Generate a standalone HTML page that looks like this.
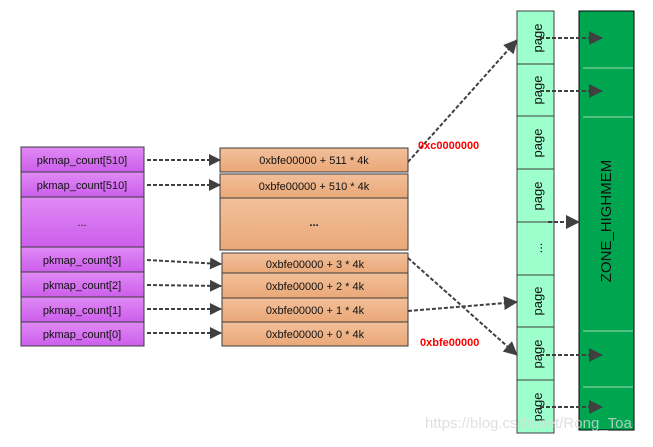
<!DOCTYPE html>
<html><head><style>
body{margin:0;width:653px;height:442px;background:#fff;overflow:hidden;font-family:"Liberation Sans",sans-serif;}
</style></head><body>
<svg width="653" height="442" xmlns="http://www.w3.org/2000/svg" font-family="Liberation Sans, sans-serif">
<defs>
<linearGradient id="pu" x1="0" y1="0" x2="0" y2="1"><stop offset="0" stop-color="#e08af5"/><stop offset="1" stop-color="#cc5eeb"/></linearGradient>
<linearGradient id="or" x1="0" y1="0" x2="0" y2="1"><stop offset="0" stop-color="#f2c09a"/><stop offset="1" stop-color="#eaa878"/></linearGradient>
<marker id="a" markerWidth="12" markerHeight="12" refX="11" refY="6" orient="auto" markerUnits="userSpaceOnUse"><path d="M0,0 L12,6 L0,12z" fill="#404040"/></marker>
<marker id="b" markerWidth="14" markerHeight="14" refX="13" refY="7" orient="auto" markerUnits="userSpaceOnUse"><path d="M0,0 L14,7 L0,14z" fill="#404040"/></marker>
</defs>
<g stroke="#3c3c3c" stroke-width="1">
<rect x="21" y="147" width="123" height="25" fill="url(#pu)"/>
<rect x="21" y="172" width="123" height="25" fill="url(#pu)"/>
<rect x="21" y="197" width="123" height="50" fill="url(#pu)"/>
<rect x="21" y="247" width="123" height="25" fill="url(#pu)"/>
<rect x="21" y="272" width="123" height="25" fill="url(#pu)"/>
<rect x="21" y="297" width="123" height="25" fill="url(#pu)"/>
<rect x="21" y="322" width="123" height="24" fill="url(#pu)"/>
<rect x="220" y="148" width="188" height="24" fill="url(#or)"/>
<rect x="220" y="174" width="188" height="24" fill="url(#or)"/>
<rect x="220" y="198" width="188" height="52" fill="url(#or)"/>
<rect x="222" y="253" width="186" height="20" fill="url(#or)"/>
<rect x="222" y="273" width="186" height="25" fill="url(#or)"/>
<rect x="222" y="298" width="186" height="24" fill="url(#or)"/>
<rect x="222" y="322" width="186" height="24" fill="url(#or)"/>
</g>
<g font-size="11" fill="#111" text-anchor="middle">
<text x="82" y="164">pkmap_count[510]</text>
<text x="82" y="189">pkmap_count[510]</text>
<text x="82" y="226">...</text>
<text x="82" y="264">pkmap_count[3]</text>
<text x="82" y="289">pkmap_count[2]</text>
<text x="82" y="314">pkmap_count[1]</text>
<text x="82" y="338">pkmap_count[0]</text>
<text x="314" y="164">0xbfe00000 + 511 * 4k</text>
<text x="314" y="190">0xbfe00000 + 510 * 4k</text>
<text x="314" y="226" font-weight="bold">...</text>
<text x="315" y="268">0xbfe00000 + 3 * 4k</text>
<text x="315" y="290">0xbfe00000 + 2 * 4k</text>
<text x="315" y="314">0xbfe00000 + 1 * 4k</text>
<text x="315" y="338">0xbfe00000 + 0 * 4k</text>
</g>
<g stroke="#3c3c3c" stroke-width="1" fill="#9cffcc">
<rect x="517" y="11" width="37" height="53"/>
<rect x="517" y="64" width="37" height="52"/>
<rect x="517" y="116" width="37" height="53"/>
<rect x="517" y="169" width="37" height="53"/>
<rect x="517" y="222" width="37" height="53"/>
<rect x="517" y="275" width="37" height="52"/>
<rect x="517" y="327" width="37" height="53"/>
<rect x="517" y="380" width="37" height="53"/>
</g>
<rect x="579" y="11" width="55" height="419" fill="#00a550" stroke="#000" stroke-width="1"/>
<g stroke="#9fd9b5" stroke-width="1"><line x1="583" y1="68" x2="633" y2="68"/><line x1="583" y1="117" x2="633" y2="117"/><line x1="583" y1="331" x2="633" y2="331"/><line x1="583" y1="387" x2="633" y2="387"/></g>
<g font-size="13" fill="#111" text-anchor="middle">
<text transform="translate(542,38) rotate(-90)">page</text>
<text transform="translate(542,90) rotate(-90)">page</text>
<text transform="translate(542,143) rotate(-90)">page</text>
<text transform="translate(542,196) rotate(-90)">page</text>
<text transform="translate(542,248) rotate(-90)">...</text>
<text transform="translate(542,301) rotate(-90)">page</text>
<text transform="translate(542,354) rotate(-90)">page</text>
<text transform="translate(542,407) rotate(-90)">page</text>
<text transform="translate(611,221) rotate(-90)" font-size="15">ZONE_HIGHMEM</text>
</g>
<g stroke="#404040" stroke-width="2" stroke-dasharray="4,2" fill="none">
<line x1="147" y1="160" x2="220" y2="160" marker-end="url(#a)"/>
<line x1="147" y1="185" x2="220" y2="185" marker-end="url(#a)"/>
<line x1="147" y1="260" x2="221" y2="264" marker-end="url(#a)"/>
<line x1="147" y1="285" x2="221" y2="286" marker-end="url(#a)"/>
<line x1="147" y1="309" x2="221" y2="309" marker-end="url(#a)"/>
<line x1="147" y1="333" x2="221" y2="333" marker-end="url(#a)"/>
<line x1="408" y1="162" x2="517" y2="40" marker-end="url(#b)"/>
<line x1="408" y1="258" x2="517" y2="355" marker-end="url(#b)"/>
<line x1="408" y1="311" x2="517" y2="302" marker-end="url(#b)"/>
<line x1="540" y1="38" x2="602" y2="38" marker-end="url(#b)"/>
<line x1="540" y1="91" x2="602" y2="91" marker-end="url(#b)"/>
<line x1="548" y1="222" x2="579" y2="222" marker-end="url(#b)"/>
<line x1="540" y1="355" x2="602" y2="355" marker-end="url(#b)"/>
<line x1="540" y1="407" x2="602" y2="407" marker-end="url(#b)"/>
</g>
<text x="418" y="149" font-size="11" font-weight="bold" fill="#ff0000">0xc0000000</text>
<text x="420" y="346" font-size="11" font-weight="bold" fill="#ff0000">0xbfe00000</text>
<text x="425" y="428" font-size="15" fill="#d8d8d8" opacity="0.8">https://blog.csdn.net/Rong_Toa</text>
</svg>
</body></html>
